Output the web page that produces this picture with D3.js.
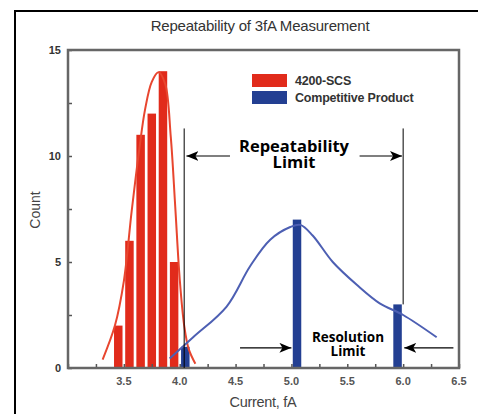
<!DOCTYPE html>
<html>
<head>
<meta charset="utf-8">
<script src="https://cdn.jsdelivr.net/npm/d3@7/dist/d3.min.js"></script>
<style>
  body { margin: 0; background: #fff; }
  text { font-family: "Liberation Sans", Arial, sans-serif; }
  .note { font-family: "Open Sans", "Noto Sans", sans-serif; font-weight: bold; fill: #000; }
</style>
</head>
<body>
<div id="chart"></div>
<script>
// histogram bins (fA) and counts
const scsBins = [3.45, 3.55, 3.65, 3.75, 3.85, 3.95];
const scsCounts = [2, 6, 11, 12, 14, 5];
const compBins = [4.05, 5.05, 5.95];
const compCounts = [1, 7, 3];

// fitted curves
const scsCurveX = [3.31, 3.42, 3.50, 3.57, 3.64, 3.69, 3.75, 3.81, 3.87, 3.92, 3.96, 4.00, 4.04, 4.08, 4.14];
const scsCurveY = [0.4, 2.0, 4.1, 7.4, 10.4, 12.2, 13.5, 13.95, 13.4, 10.9, 7.6, 4.2, 2.0, 0.9, 0.2];
const compCurveX = [3.91, 4.12, 4.42, 4.63, 4.81, 4.99, 5.08, 5.19, 5.37, 5.59, 5.79, 6.00, 6.30];
const compCurveY = [0.45, 1.45, 2.9, 4.8, 6.05, 6.65, 6.75, 6.25, 5.0, 3.9, 3.05, 2.5, 1.45];

const xTicks = [3.5, 4.0, 4.5, 5.0, 5.5, 6.0, 6.5];
const yTicks = [0, 5, 10, 15];
const legendNames = ["4200-SCS", "Competitive Product"];

const width = 478, height = 414;
const red = "#e12b1b", blue = "#233f92";

const svg = d3.select("#chart").append("svg")
    .attr("width", width)
    .attr("height", height);

// outer frame
svg.append("path")
    .attr("d", "M15,414V11H478")
    .attr("fill", "none")
    .attr("stroke", "#000")
    .attr("stroke-width", 2);

const x = d3.scaleLinear().domain([3.0, 6.5]).range([68, 459]);
const y = d3.scaleLinear().domain([0, 15]).range([368, 50]);

const barW = x(3.076) - x(3.0);

svg.append("text")
    .attr("x", 260).attr("y", 31)
    .attr("text-anchor", "middle")
    .attr("font-size", 15)
    .attr("letter-spacing", -0.2)
    .attr("fill", "#333")
    .text("Repeatability of 3fA Measurement");

// bars
svg.append("g").selectAll("rect")
    .data(scsBins.map((b, i) => ({b: b, c: scsCounts[i]})))
    .enter().append("rect")
    .attr("x", d => x(d.b) - barW / 2)
    .attr("y", d => y(d.c))
    .attr("width", barW)
    .attr("height", d => y(0) - y(d.c))
    .attr("fill", red);

svg.append("g").selectAll("rect")
    .data(compBins.map((b, i) => ({b: b, c: compCounts[i]})))
    .enter().append("rect")
    .attr("x", d => x(d.b) - barW / 2)
    .attr("y", d => y(d.c))
    .attr("width", barW)
    .attr("height", d => y(0) - y(d.c))
    .attr("fill", blue);

// curves
const line = d3.line()
    .x(d => x(d[0]))
    .y(d => y(d[1]))
    .curve(d3.curveCatmullRom);

svg.append("path")
    .datum(scsCurveX.map((v, i) => [v, scsCurveY[i]]))
    .attr("d", line)
    .attr("fill", "none")
    .attr("stroke", "#e8462f")
    .attr("stroke-width", 2);

svg.append("path")
    .datum(compCurveX.map((v, i) => [v, compCurveY[i]]))
    .attr("d", line)
    .attr("fill", "none")
    .attr("stroke", "#4d5fb3")
    .attr("stroke-width", 2);

// axes with inward ticks
svg.append("g")
    .attr("transform", "translate(0," + y(0) + ")")
    .call(d3.axisBottom(x).tickValues(d3.range(3.0, 6.51, 0.25)).tickSize(-4).tickFormat(""));
svg.append("g")
    .attr("transform", "translate(" + x(3.0) + ",0)")
    .call(d3.axisLeft(y).tickValues(d3.range(0, 15.1, 2.5)).tickSize(-4).tickFormat(""));
svg.selectAll(".domain").remove();
svg.selectAll(".tick line").attr("stroke", "#555").attr("stroke-width", 1.5);

svg.append("rect")
    .attr("x", x(3.0)).attr("y", y(15))
    .attr("width", x(6.5) - x(3.0))
    .attr("height", y(0) - y(15))
    .attr("fill", "none")
    .attr("stroke", "#666")
    .attr("stroke-width", 2.5);

svg.append("g").selectAll("text")
    .data(xTicks).enter().append("text")
    .attr("x", d => x(d)).attr("y", y(0) + 17)
    .attr("text-anchor", "middle")
    .attr("font-size", 11)
    .attr("font-weight", "bold")
    .attr("fill", "#555")
    .text(d => d.toFixed(1));

svg.append("g").selectAll("text")
    .data(yTicks).enter().append("text")
    .attr("x", 61).attr("y", d => y(d) + 4)
    .attr("text-anchor", "end")
    .attr("font-size", 11)
    .attr("font-weight", "bold")
    .attr("fill", "#333")
    .text(d => d);

svg.append("text")
    .attr("x", 263).attr("y", 407)
    .attr("text-anchor", "middle")
    .attr("font-size", 14.5)
    .attr("letter-spacing", -0.3)
    .attr("fill", "#444")
    .text("Current, fA");

svg.append("text")
    .attr("transform", "translate(40,210) rotate(-90)")
    .attr("text-anchor", "middle")
    .attr("font-size", 14)
    .attr("fill", "#444")
    .text("Count");

// legend
const legend = svg.append("g").selectAll("g")
    .data(legendNames).enter().append("g")
    .attr("transform", (d, i) => "translate(252," + (74 + i * 17) + ")");
legend.append("rect")
    .attr("width", 35).attr("height", 13)
    .attr("fill", (d, i) => i ? blue : red);
legend.append("text")
    .attr("x", 43).attr("y", 11)
    .attr("font-size", 12.5)
    .attr("font-weight", "bold")
    .attr("letter-spacing", -0.2)
    .attr("fill", "#333")
    .text(d => d);

// annotations
const limits = [4.04, 6.0];
svg.append("line")
    .attr("x1", x(limits[0])).attr("x2", x(limits[0]))
    .attr("y1", y(11.3)).attr("y2", y(0))
    .attr("stroke", "#000");
svg.append("line")
    .attr("x1", x(limits[1])).attr("x2", x(limits[1]))
    .attr("y1", y(11.3)).attr("y2", y(3))
    .attr("stroke", "#000");

svg.append("defs").append("marker")
    .attr("id", "arr")
    .attr("viewBox", "0 0 12 10")
    .attr("refX", 12).attr("refY", 5)
    .attr("markerWidth", 12).attr("markerHeight", 10)
    .attr("markerUnits", "userSpaceOnUse")
    .attr("orient", "auto")
    .append("path")
    .attr("d", "M0,0L12,5L0,10L3,5Z")
    .attr("fill", "#000");

const arrows = [
  [4.45, 4.06, 10], [5.61, 5.99, 10],
  [4.54, 5.0, 0.95], [6.45, 6.01, 0.95]
];
svg.append("g").selectAll("line")
    .data(arrows).enter().append("line")
    .attr("x1", d => x(d[0])).attr("x2", d => x(d[1]))
    .attr("y1", d => y(d[2])).attr("y2", d => y(d[2]))
    .attr("stroke", "#000")
    .attr("stroke-width", 1.2)
    .attr("marker-end", "url(#arr)");

// two-line labels, one text element with tspans
function note(lines, cx, y0, size, gap) {
  const t = svg.append("text")
      .attr("class", "note")
      .attr("x", cx).attr("y", y0)
      .attr("text-anchor", "middle")
      .attr("font-size", size);
  t.selectAll("tspan")
      .data(lines).enter().append("tspan")
      .attr("x", cx)
      .attr("dy", (d, i) => i ? gap : 0)
      .text(d => d);
}
note(["Repeatability", "Limit"], 294, 152, 16.5, 16);
note(["Resolution", "Limit"], 348, 342, 13.5, 14);
</script>
</body>
</html>
